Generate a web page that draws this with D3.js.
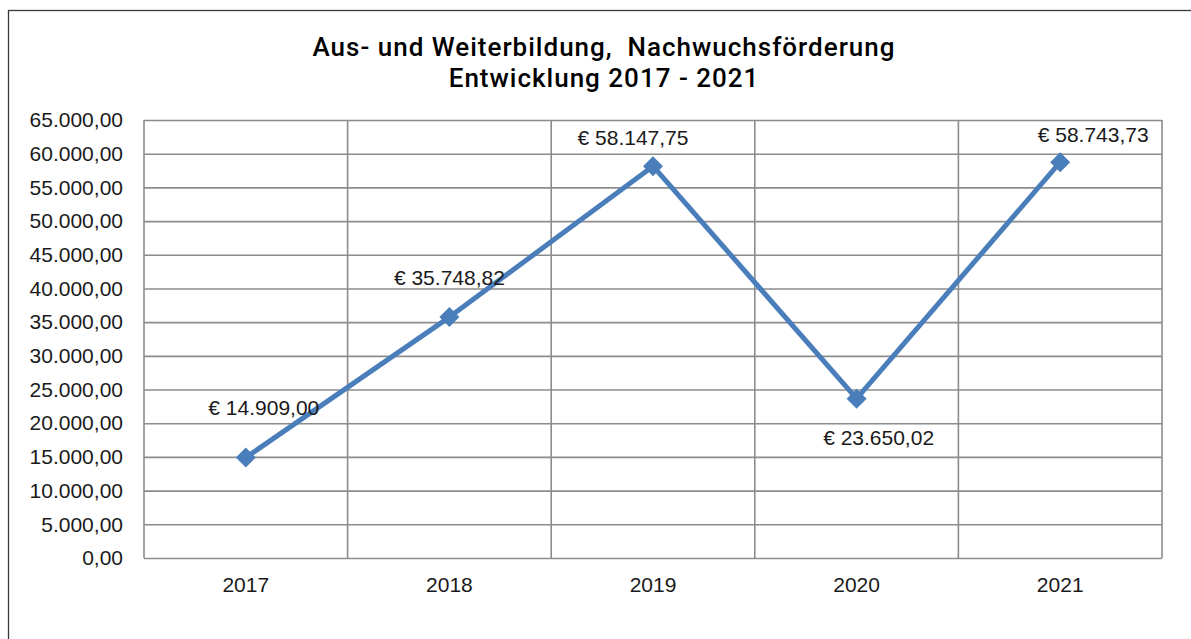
<!DOCTYPE html>
<html>
<head>
<meta charset="utf-8">
<script src="https://cdn.jsdelivr.net/npm/d3@7"></script>
<style>
  html, body { margin: 0; padding: 0; background: #fff; }
  svg { display: block; }
</style>
</head>
<body>
<svg id="chart" width="1191" height="639"></svg>
<script>
// ---- Data ----
const titleLines = ["Aus- und Weiterbildung,  Nachwuchsförderung", "Entwicklung 2017 - 2021"];
const years = ["2017", "2018", "2019", "2020", "2021"];
const values = [14909.00, 35748.82, 58147.75, 23650.02, 58743.73];
const yTicks = [0, 5000, 10000, 15000, 20000, 25000, 30000, 35000, 40000, 45000, 50000, 55000, 60000, 65000];

// ---- Layout (label placement offsets, px) ----
const labelDx = [18, 0, -20, 22, 33];
const labelDy = [-50, -39, -29, 39, -28];

const svg = d3.select("#chart");
const W = 1191, H = 639;
const plot = { left: 144, right: 1162, top: 120, bottom: 558 };
const blue = "#4a7ebb";
const grid = "#8c8c8c";
const textColor = "#1a1a1a";
const sansFont = "'Liberation Sans', Arial, sans-serif";

// outer frame (extends past right/bottom edge)
svg.append("rect")
  .attr("x", 8.5).attr("y", 10.5)
  .attr("width", W + 20).attr("height", H + 20)
  .attr("fill", "#fff").attr("stroke", "#3a3a3a").attr("stroke-width", 1.3);

// scales
const x = d3.scaleBand().domain(years).range([plot.left, plot.right]).padding(0);
const y = d3.scaleLinear().domain([0, 65000]).range([plot.bottom, plot.top]);

const fmt = d3.formatLocale({ decimal: ",", thousands: ".", grouping: [3], currency: ["€ ", ""] });
const tickFmt = fmt.format(",.2f");
const labelFmt = v => "€ " + fmt.format(",.2f")(v);

// horizontal gridlines
const gy = svg.append("g")
  .attr("transform", `translate(${plot.left},0)`)
  .call(d3.axisLeft(y).tickValues(yTicks).tickFormat(tickFmt)
    .tickSize(-(plot.right - plot.left)).tickPadding(21));
gy.select(".domain").remove();
gy.selectAll(".tick line").attr("stroke", grid).attr("stroke-width", 1.6);
gy.selectAll(".tick text")
  .attr("font-family", sansFont).attr("font-size", 21)
  .attr("fill", textColor);

// vertical gridlines at category boundaries
const boundaries = years.map(d => x(d)).concat([x(years[years.length - 1]) + x.bandwidth()]);
svg.append("g").selectAll("line").data(boundaries).join("line")
  .attr("x1", d => d).attr("x2", d => d)
  .attr("y1", plot.top).attr("y2", plot.bottom)
  .attr("stroke", grid).attr("stroke-width", 1.6);

// x axis labels
const gx = svg.append("g")
  .attr("transform", `translate(0,${plot.bottom})`)
  .call(d3.axisBottom(x).tickSize(0).tickPadding(19));
gx.select(".domain").remove();
gx.selectAll(".tick text")
  .attr("font-family", sansFont).attr("font-size", 21)
  .attr("fill", textColor);

// line
const cx = d => x(d) + x.bandwidth() / 2;
const pts = years.map((yr, i) => [cx(yr), y(values[i])]);
svg.append("path")
  .datum(pts)
  .attr("d", d3.line())
  .attr("fill", "none")
  .attr("stroke", blue)
  .attr("stroke-width", 5)
  .attr("stroke-linejoin", "round");

// diamond markers
svg.append("g").selectAll("path").data(pts).join("path")
  .attr("d", d3.symbol(d3.symbolSquare, 200)())
  .attr("transform", d => `translate(${d[0]},${d[1]}) rotate(45)`)
  .attr("fill", blue);

// data labels
svg.append("g").selectAll("text").data(values).join("text")
  .attr("x", (d, i) => pts[i][0] + labelDx[i])
  .attr("y", (d, i) => pts[i][1] + labelDy[i])
  .attr("dy", "0.35em")
  .attr("text-anchor", "middle")
  .attr("font-family", sansFont).attr("font-size", 21)
  .attr("fill", textColor)
  .text(d => labelFmt(d));

// title
svg.append("text")
  .attr("x", 604).attr("y", 56)
  .attr("text-anchor", "middle")
  .attr("font-family", "Roboto, Inter, sans-serif")
  .attr("font-weight", 500)
  .attr("font-size", 26)
  .attr("letter-spacing", 1)
  .attr("fill", "#000")
  .style("white-space", "pre")
  .selectAll("tspan").data(titleLines).join("tspan")
  .attr("x", 604)
  .attr("dy", (d, i) => i === 0 ? 0 : 31)
  .text(d => d);
</script>
</body>
</html>
